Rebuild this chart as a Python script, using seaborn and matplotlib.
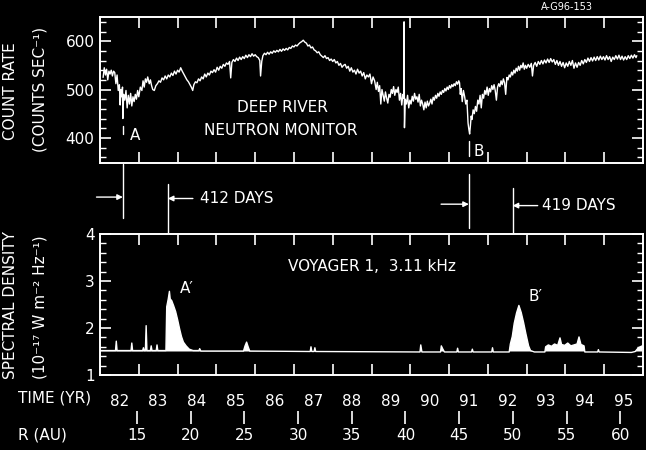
import matplotlib
matplotlib.use("Agg")
import matplotlib.pyplot as plt
import seaborn as sns
from matplotlib.ticker import MultipleLocator

# Deep River neutron monitor count rate (counts/s)
nm_year = [
    1982.08, 1982.11, 1982.14, 1982.17, 1982.20, 1982.23, 1982.26, 1982.29, 1982.32, 1982.35,
    1982.38, 1982.41, 1982.44, 1982.47, 1982.50, 1982.52, 1982.54, 1982.56, 1982.58, 1982.59,
    1982.61, 1982.64, 1982.67, 1982.70, 1982.73, 1982.76, 1982.79, 1982.82, 1982.85, 1982.88,
    1982.91, 1982.94, 1982.97,
    1983.00, 1983.04, 1983.08, 1983.11, 1983.14, 1983.17, 1983.20, 1983.23, 1983.27, 1983.30,
    1983.33, 1983.36, 1983.40, 1983.44, 1983.48, 1983.52, 1983.56, 1983.60, 1983.64, 1983.68,
    1983.72, 1983.76, 1983.80, 1983.84, 1983.88, 1983.92, 1983.96,
    1984.00, 1984.04, 1984.08, 1984.12, 1984.16, 1984.20, 1984.24, 1984.28, 1984.32, 1984.36,
    1984.39, 1984.42, 1984.46, 1984.50, 1984.54, 1984.58, 1984.62, 1984.66, 1984.70, 1984.74,
    1984.78, 1984.82, 1984.86, 1984.90, 1984.94, 1984.98,
    1985.02, 1985.06, 1985.10, 1985.14, 1985.18, 1985.22, 1985.26, 1985.30, 1985.34, 1985.37,
    1985.40, 1985.44, 1985.48, 1985.52, 1985.56, 1985.60, 1985.64, 1985.68, 1985.72, 1985.76,
    1985.80, 1985.84, 1985.88, 1985.92, 1985.96,
    1986.00, 1986.04, 1986.08, 1986.12, 1986.14, 1986.17, 1986.20, 1986.24, 1986.28, 1986.32,
    1986.36, 1986.40, 1986.44, 1986.48, 1986.52, 1986.56, 1986.60, 1986.64, 1986.68, 1986.72,
    1986.76, 1986.80, 1986.84, 1986.88, 1986.92, 1986.96,
    1987.00, 1987.04, 1987.08, 1987.12, 1987.16, 1987.20, 1987.24, 1987.28, 1987.32, 1987.36,
    1987.40, 1987.44, 1987.48, 1987.52, 1987.56, 1987.60, 1987.64, 1987.68, 1987.72, 1987.76,
    1987.80, 1987.84, 1987.88, 1987.92, 1987.96,
    1988.00, 1988.04, 1988.08, 1988.12, 1988.16, 1988.20, 1988.24, 1988.28, 1988.32, 1988.36,
    1988.40, 1988.44, 1988.48, 1988.52, 1988.56, 1988.60, 1988.64, 1988.68, 1988.72, 1988.76,
    1988.80, 1988.84, 1988.88, 1988.92, 1988.96,
    1989.00, 1989.04, 1989.08, 1989.12, 1989.15, 1989.18, 1989.21, 1989.24, 1989.27, 1989.30,
    1989.33, 1989.36, 1989.39, 1989.42, 1989.45, 1989.48, 1989.51, 1989.54, 1989.57, 1989.60,
    1989.63, 1989.66, 1989.69, 1989.72, 1989.75, 1989.78, 1989.81, 1989.83, 1989.84, 1989.85,
    1989.87, 1989.90, 1989.93, 1989.96, 1989.99,
    1990.02, 1990.05, 1990.08, 1990.11, 1990.14, 1990.17, 1990.20, 1990.23, 1990.26, 1990.29,
    1990.32, 1990.35, 1990.38, 1990.41, 1990.44, 1990.47, 1990.50, 1990.53, 1990.56, 1990.59,
    1990.62, 1990.65, 1990.68, 1990.71, 1990.74, 1990.77, 1990.80, 1990.83, 1990.86, 1990.89,
    1990.92, 1990.95, 1990.98,
    1991.01, 1991.04, 1991.07, 1991.10, 1991.13, 1991.16, 1991.19, 1991.22, 1991.25, 1991.27,
    1991.29, 1991.31, 1991.34, 1991.37, 1991.40, 1991.43, 1991.46, 1991.49, 1991.51, 1991.53,
    1991.55, 1991.57, 1991.59, 1991.62, 1991.65, 1991.68, 1991.71, 1991.74, 1991.77, 1991.80,
    1991.83, 1991.86, 1991.89, 1991.92, 1991.95, 1991.98,
    1992.01, 1992.04, 1992.07, 1992.10, 1992.13, 1992.16, 1992.19, 1992.22, 1992.25, 1992.28,
    1992.31, 1992.34, 1992.37, 1992.40, 1992.43, 1992.46, 1992.49, 1992.52, 1992.55, 1992.58,
    1992.61, 1992.64, 1992.67, 1992.70, 1992.73, 1992.76, 1992.79, 1992.82, 1992.85, 1992.88,
    1992.91, 1992.94, 1992.97,
    1993.00, 1993.04, 1993.08, 1993.12, 1993.15, 1993.18, 1993.22, 1993.26, 1993.30, 1993.34,
    1993.38, 1993.42, 1993.46, 1993.50, 1993.54, 1993.58, 1993.62, 1993.66, 1993.70, 1993.74,
    1993.78, 1993.82, 1993.86, 1993.90, 1993.94, 1993.98,
    1994.02, 1994.06, 1994.10, 1994.14, 1994.18, 1994.22, 1994.26, 1994.30, 1994.34, 1994.38,
    1994.42, 1994.46, 1994.50, 1994.54, 1994.58, 1994.62, 1994.66, 1994.70, 1994.74, 1994.78,
    1994.82, 1994.86, 1994.90, 1994.94, 1994.98,
    1995.02, 1995.06, 1995.10, 1995.14, 1995.18, 1995.22, 1995.26, 1995.30, 1995.34, 1995.38,
    1995.42, 1995.46, 1995.50, 1995.54, 1995.58, 1995.62, 1995.66, 1995.70, 1995.74, 1995.78,
    1995.82, 1995.84,
]
nm_rate = [
    525, 545, 530, 542, 520, 538, 532, 540, 528, 538,
    535, 512, 530, 498, 510, 468, 500, 485, 505, 440,
    490, 478, 498, 462, 488, 470, 492, 466, 485, 475,
    490, 480, 498,
    485, 505, 498, 518, 505, 522, 515, 526, 512, 520,
    508, 500, 498, 508, 512, 518, 515, 524, 520, 528,
    522, 530, 526, 534, 529, 538, 532,
    540, 536, 545, 538, 532, 526, 520, 516, 510, 504,
    498, 510, 516, 514, 522, 518, 526, 522, 532, 526,
    534, 530, 538, 535, 541, 536,
    546, 540, 548, 544, 552, 548, 555, 552, 558, 524,
    556, 562, 558, 565, 560, 567, 562, 568, 564, 571,
    566, 572, 568, 574, 569,
    572, 568, 566, 560, 528, 558, 570, 575, 572, 577,
    573, 578, 575, 580, 577, 581, 578, 583, 579, 584,
    581, 585, 582, 587, 585, 590,
    588, 592, 590, 594, 597, 599, 602, 598, 596, 590,
    592, 586, 588, 582, 580, 576, 578, 572, 569, 566,
    570, 564, 566, 560, 563,
    558, 562, 555, 558, 550, 554, 546, 550, 552, 544,
    548, 538, 545, 536, 540, 532, 542, 534, 538, 528,
    535, 522, 530, 526, 532,
    512, 526, 518, 500, 515, 496, 508, 470, 500, 488,
    476, 495, 482, 472, 490, 484, 500, 492, 506, 488,
    500, 494, 505, 478, 492, 468, 490, 482, 640, 421,
    480, 470, 488, 462, 478,
    470, 486, 476, 492, 480, 485, 474, 490, 466, 478,
    470, 458, 474, 462, 476, 466, 472, 480, 470, 484,
    478, 488, 482, 492, 486, 495, 490, 498, 494, 502,
    497, 505, 500,
    508, 503, 510, 506, 512, 508, 516, 511, 518, 514,
    490, 502, 475, 498, 486, 470, 478, 430, 418, 408,
    425, 445, 438, 458, 450, 465, 455, 478, 470, 488,
    462, 490, 482, 498, 490, 505,
    488, 502, 495, 508, 500, 510, 498, 478, 505, 512,
    506, 518, 510, 522, 514, 490, 525, 520, 530, 526,
    536, 530, 540, 534, 544, 538, 548, 540, 550, 545,
    555, 542, 550,
    544, 552, 546, 554, 528, 550, 556, 548, 558, 552,
    560, 553, 561, 555, 563, 556, 564, 557, 562, 552,
    560, 550, 558, 548, 556, 545,
    555, 548, 558, 550, 560, 544, 555, 546, 556, 550,
    560, 553, 562, 556, 565, 558, 566, 559, 567, 560,
    568, 561, 569, 562, 568,
    561, 570, 562, 568, 558, 567, 562, 570, 563, 571,
    562, 569, 561, 568, 562, 570, 564, 571, 565, 572,
    566, 570,
]

# Voyager 1 3.11 kHz spectral density (1e-17 W m^-2 Hz^-1)
v1_year = [1982.00, 1982.40, 1982.42, 1982.44, 1982.80, 1982.82, 1982.84, 1983.10, 1983.12, 1983.14,
           1983.17, 1983.19, 1983.21, 1983.30, 1983.32, 1983.34, 1983.45, 1983.47, 1983.49, 1983.70,
           1983.72, 1983.76, 1983.79, 1983.81, 1983.85, 1983.90, 1983.95, 1984.00, 1984.05, 1984.10,
           1984.15, 1984.22, 1984.30, 1984.40, 1984.55, 1984.57, 1984.60, 1985.70, 1985.74, 1985.78,
           1985.82, 1985.86, 1987.42, 1987.44, 1987.46, 1987.52, 1987.54, 1987.56, 1990.25, 1990.27,
           1990.30, 1990.78, 1990.80, 1990.84, 1990.88, 1991.20, 1991.22, 1991.24, 1991.58, 1991.60,
           1991.62, 1992.10, 1992.12, 1992.14, 1992.55, 1992.58, 1992.63, 1992.68, 1992.74, 1992.80,
           1992.86, 1992.92, 1992.98, 1993.05, 1993.10, 1993.20, 1993.47, 1993.49, 1993.56, 1993.64,
           1993.72, 1993.80, 1993.86, 1993.90, 1993.98, 1994.06, 1994.14, 1994.22, 1994.30, 1994.35,
           1994.40, 1994.48, 1994.50, 1994.83, 1994.85, 1994.87, 1995.70, 1995.80, 1995.88, 1995.98]
v1_density = [1.52, 1.52, 1.72, 1.52, 1.52, 1.68, 1.52, 1.52, 1.58, 1.52,
              1.52, 2.05, 1.52, 1.52, 1.62, 1.52, 1.52, 1.64, 1.52, 1.52,
              2.45, 2.62, 2.78, 2.62, 2.58, 2.47, 2.35, 2.18, 1.99, 1.82,
              1.70, 1.62, 1.55, 1.52, 1.52, 1.56, 1.51, 1.51, 1.62, 1.70,
              1.60, 1.51, 1.50, 1.60, 1.50, 1.50, 1.58, 1.50, 1.49, 1.64,
              1.49, 1.49, 1.62, 1.55, 1.49, 1.49, 1.57, 1.49, 1.49, 1.55,
              1.49, 1.49, 1.58, 1.49, 1.49, 1.66, 1.82, 2.10, 2.32, 2.48,
              2.33, 2.12, 1.88, 1.62, 1.52, 1.49, 1.49, 1.60, 1.64, 1.61,
              1.66, 1.63, 1.79, 1.65, 1.63, 1.68, 1.62, 1.64, 1.66, 1.81,
              1.65, 1.62, 1.49, 1.49, 1.54, 1.49, 1.48, 1.50, 1.58, 1.62]
v1_background = 1.5

year_labels = ["82", "83", "84", "85", "86", "87", "88", "89", "90", "91", "92", "93", "94", "95"]
r_au_ticks = [15, 20, 25, 30, 35, 40, 45, 50, 55, 60]
# Voyager 1 heliocentric distance: 15 AU at 1982.95, ~3.61 AU per year
r_ref_year, r_ref_au, au_per_year = 1982.95, 15.0, 3.61

# event onsets (A, A', B, B')
event_a, event_a2, event_b, event_b2 = 1982.59, 1983.75, 1991.51, 1992.64

sns.set_theme(style="ticks", rc={
    "figure.facecolor": "black", "axes.facecolor": "black", "savefig.facecolor": "black",
    "axes.edgecolor": "white", "text.color": "white", "axes.labelcolor": "white",
    "xtick.color": "white", "ytick.color": "white", "axes.linewidth": 1.4,
})
plt.rcParams["font.family"] = ["DejaVu Sans"]
FS = 11

W, H = 646, 450


def px(x, y):
    return x / W, 1 - y / H


fig = plt.figure(figsize=(6.46, 4.5), dpi=100)
ax1 = fig.add_axes([100 / W, 1 - 163 / H, 543 / W, 146 / H])
axm = fig.add_axes([100 / W, 1 - 234 / H, 543 / W, 71 / H])
ax2 = fig.add_axes([100 / W, 1 - 375 / H, 543 / W, 141 / H])

year_edges = [1982 + i for i in range(1, len(year_labels))]
year_mids = [1982.5 + i for i in range(len(year_labels))]

# top panel: neutron monitor
sns.lineplot(x=nm_year, y=nm_rate, ax=ax1, color="white", lw=1.0, estimator=None, sort=False)
ax1.set_xlim(1982, 1996)
ax1.set_ylim(348, 650)
ax1.set_xticks(year_edges)
ax1.set_xticklabels([])
ax1.set_yticks([400, 500, 600])
ax1.yaxis.set_minor_locator(MultipleLocator(20))
ax1.tick_params(which="both", direction="in", top=True, right=True, labelsize=FS, pad=4)
ax1.tick_params(which="major", length=8, width=1.2)
ax1.tick_params(which="minor", length=4, width=1)
ax1.set_xlabel("")
ax1.set_ylabel("")
ax1.plot([event_a, event_a], [408, 425], color="white", lw=1)
ax1.plot([event_b, event_b], [362, 394], color="white", lw=1)
ax1.text(1982.9, 404, "A", fontsize=FS, ha="center", va="center")
ax1.text(1991.76, 372, "B", fontsize=FS, ha="center", va="center")
ax1.text(1986.7, 462, "DEEP RIVER", fontsize=FS, ha="center", va="center")
ax1.text(1986.65, 416, "NEUTRON MONITOR", fontsize=FS, ha="center", va="center")

# middle strip: event delay markers
axm.set_xlim(1982, 1996)
axm.set_ylim(0, 1)
axm.axis("off")
axm.plot([event_a, event_a], [0.22, 0.98], color="white", lw=1, clip_on=False)
axm.plot([event_a2, event_a2], [-0.03, 0.70], color="white", lw=1, clip_on=False)
axm.plot([event_b, event_b], [0.09, 0.85], color="white", lw=1, clip_on=False)
axm.plot([event_b2, event_b2], [-0.12, 0.65], color="white", lw=1, clip_on=False)
arrow = dict(arrowstyle="-|>", color="white", lw=1, mutation_scale=8, shrinkA=0, shrinkB=0)
axm.annotate("", xy=(event_a, 0.52), xytext=(-19, 0), textcoords="offset points", arrowprops=arrow)
axm.annotate("", xy=(event_a2, 0.50), xytext=(18, 0), textcoords="offset points", arrowprops=arrow)
axm.annotate("", xy=(event_b, 0.42), xytext=(-20, 0), textcoords="offset points", arrowprops=arrow)
axm.annotate("", xy=(event_b2, 0.40), xytext=(18, 0), textcoords="offset points", arrowprops=arrow)
axm.annotate("412 DAYS", xy=(event_a2, 0.50), xytext=(23, 0), textcoords="offset points",
             fontsize=FS, va="center", ha="left")
axm.annotate("419 DAYS", xy=(event_b2, 0.40), xytext=(21, 0), textcoords="offset points",
             fontsize=FS, va="center", ha="left")

# bottom panel: Voyager 1 radio emission
sns.lineplot(x=v1_year, y=v1_density, ax=ax2, color="white", lw=1.0, estimator=None, sort=False)
ax2.fill_between(v1_year, v1_density, v1_background,
                 where=[d > v1_background for d in v1_density],
                 color="white", lw=0, interpolate=True)
ax2.set_xlim(1982, 1996)
ax2.set_ylim(1, 4)
ax2.set_xticks(year_edges)
ax2.set_xticklabels([])
ax2.set_xticks(year_mids, minor=True)
ax2.set_xticklabels(year_labels, minor=True)
ax2.set_yticks([1, 2, 3, 4])
ax2.yaxis.set_minor_locator(MultipleLocator(0.2))
ax2.tick_params(which="both", direction="in", top=True, right=True, labelsize=FS, pad=4)
ax2.tick_params(which="major", length=8, width=1.2)
ax2.tick_params(which="minor", length=4, width=1)
ax2.tick_params(axis="x", which="minor", length=0, pad=14)
ax2.set_xlabel("")
ax2.set_ylabel("")
ax2.text(1984.25, 2.85, "A′", fontsize=FS, ha="center", va="center")
ax2.text(1993.22, 2.68, "B′", fontsize=FS, ha="center", va="center")
ax2.text(1989.0, 3.3, "VOYAGER 1,  3.11 kHz", fontsize=FS, ha="center", va="center")

# distance axis below the time labels
secax = ax2.secondary_xaxis(
    -0.255,
    functions=(lambda t: r_ref_au + (t - r_ref_year) * au_per_year,
               lambda r: r_ref_year + (r - r_ref_au) / au_per_year))
secax.set_xticks(r_au_ticks)
secax.spines["bottom"].set_visible(False)
secax.tick_params(direction="out", length=9, width=1.2, labelsize=FS, pad=3)

# axis titles and side labels
fig.text(*px(11, 91), "COUNT RATE", rotation=90, fontsize=FS, ha="center", va="center")
fig.text(*px(40, 89), "(COUNTS SEC⁻¹)", rotation=90, fontsize=FS, ha="center", va="center")
fig.text(*px(11, 305), "SPECTRAL DENSITY", rotation=90, fontsize=FS, ha="center", va="center")
fig.text(*px(40, 307), "(10⁻¹⁷ W m⁻² Hz⁻¹)", rotation=90, fontsize=FS, ha="center", va="center")
fig.text(*px(18, 398), "TIME (YR)", fontsize=FS, ha="left", va="center")
fig.text(*px(18, 435), "R (AU)", fontsize=FS, ha="left", va="center")
fig.text(*px(567, 7), "A-G96-153", fontsize=7, ha="center", va="center")

fig.savefig("out.png", dpi=100)
